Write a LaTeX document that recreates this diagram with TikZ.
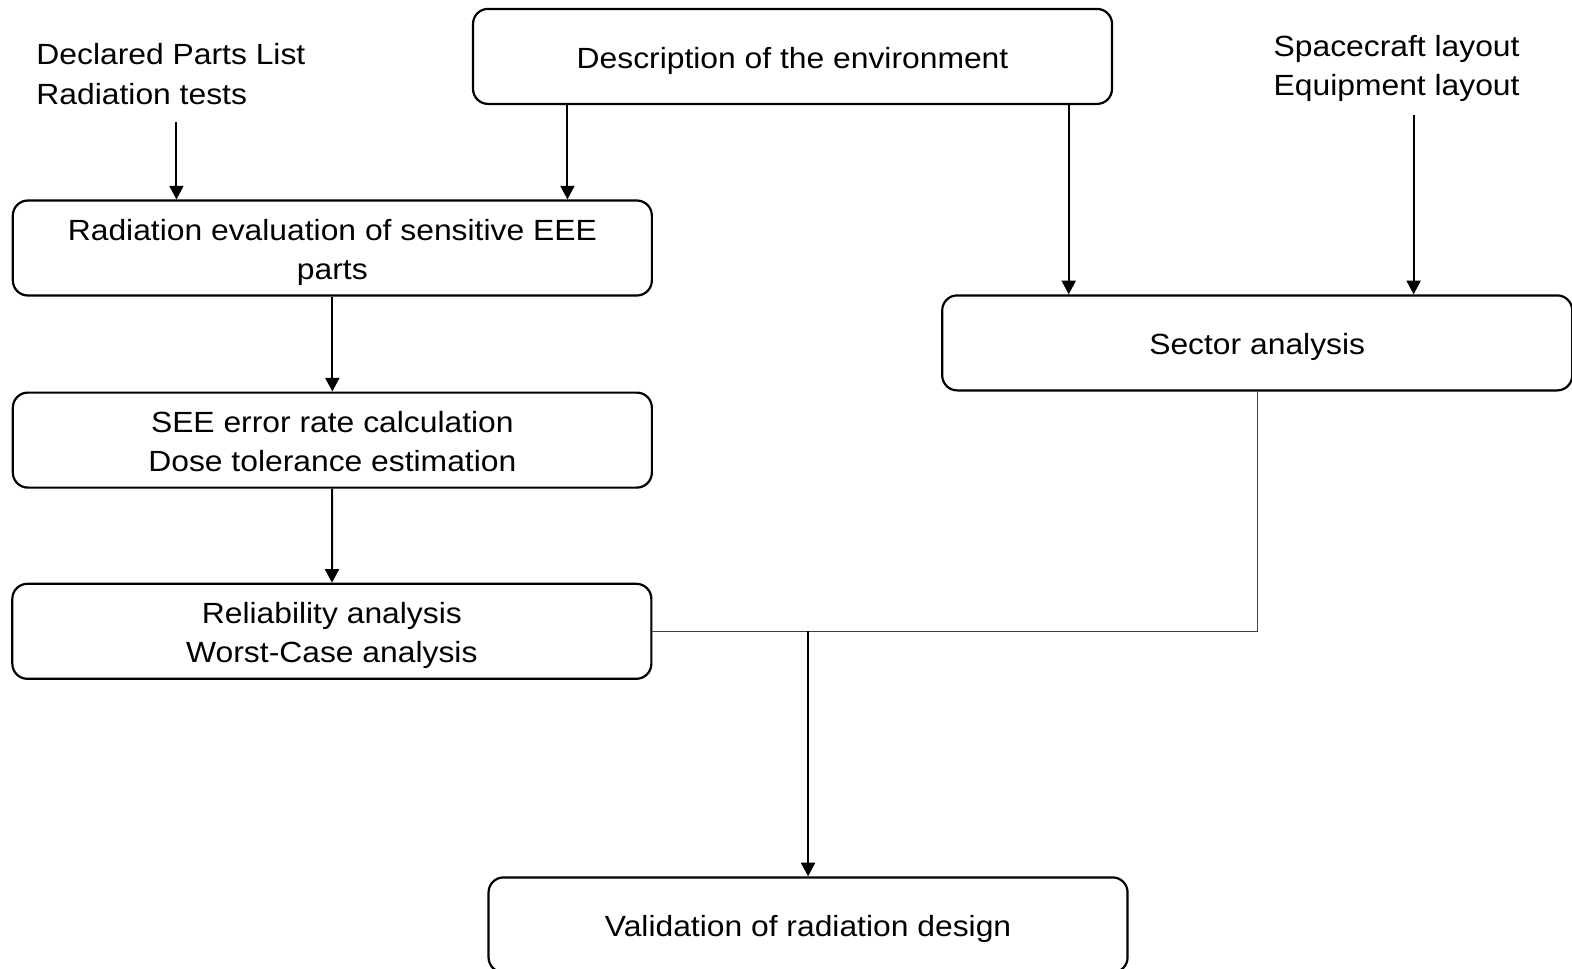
\documentclass[tikz,border=0pt]{standalone}
\usepackage{fontspec}
\setmainfont{Liberation Sans}[FakeStretch=1.09]
\usepackage{tikz}
\usetikzlibrary{positioning, arrows.meta}
\newcommand{\boxtext}[1]{\raisebox{-1.9pt}[\height][\depth]{\begin{tabular}{@{}c@{}}#1\end{tabular}}}

\begin{document}
\begin{tikzpicture}[x=0.50128pt,y=-0.50104pt,
  every node/.style={font=\fontsize{14.6}{19.65}\selectfont},
  stage/.style={draw,line width=1.1pt,rounded corners=7.5pt,minimum width=319.5pt,minimum height=47.5pt,inner sep=0pt},
  note/.style={align=left,inner sep=0pt},
  arr/.style={-{Triangle[length=6.8pt,width=7pt]},line width=1pt},
  merge/.style={line width=0.6pt,black!75}]
\useasboundingbox (0,0) rectangle (1568,967);
% boxes
\node[stage] (desc) at (790.5,56.3) {\boxtext{Description of the environment}};
\node[stage] (radeval) at (331.5,247.5) {\boxtext{Radiation evaluation of sensitive EEE\\parts}};
\node[stage] (seecalc) at (331.5,439.2) {\boxtext{SEE error rate calculation\\Dose tolerance estimation}};
\node[stage] (reliab) at (331,630) {\boxtext{Reliability analysis\\Worst-Case analysis}};
\node[stage,minimum width=315pt] (sector) at (1254,342.2) {\boxtext{Sector analysis}};
\node[stage] (valid) at (806,923) {\boxtext{Validation of radiation design}};
% inputs
\node[note,anchor=west] (parts) at (36,74) {Declared Parts List\\Radiation tests};
\node[note,anchor=west] (layout) at (1270,68) {Spacecraft layout\\Equipment layout};
\coordinate (p1) at (176,122);
\coordinate (p2) at (1410,115);
\coordinate (c1) at (566,0);
\coordinate (c2) at (1066,0);
% arrows
\draw[arr] (p1) -- (p1 |- radeval.north);
\draw[arr] (c1 |- desc.south) -- (c1 |- radeval.north);
\draw[arr] (c2 |- desc.south) -- (c2 |- sector.north);
\draw[arr] (p2) -- (p2 |- sector.north);
\draw[arr] (radeval) -- (seecalc);
\draw[arr] (seecalc) -- (reliab);
\draw[merge] (reliab.east) -| (sector.south);
\draw[arr] (valid.north |- reliab.east) -- (valid.north);
\end{tikzpicture}
\end{document}
